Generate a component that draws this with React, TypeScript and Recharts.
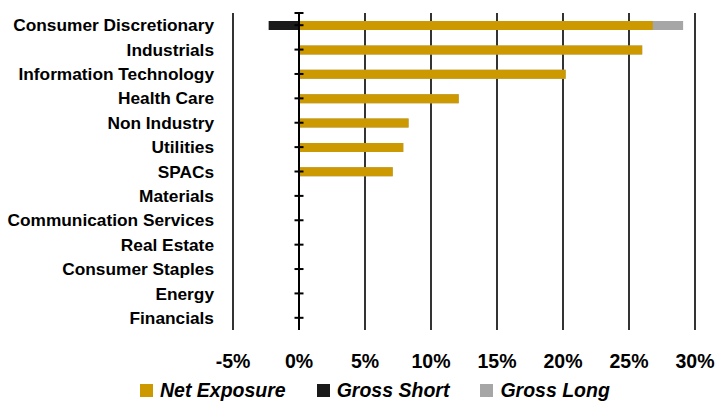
import React from 'react';
import {
  ComposedChart,
  Bar,
  Line,
  XAxis,
  YAxis,
  CartesianGrid,
  ReferenceLine,
  Legend,
} from 'recharts';

const categories = [
  'Consumer Discretionary',
  'Industrials',
  'Information Technology',
  'Health Care',
  'Non Industry',
  'Utilities',
  'SPACs',
  'Materials',
  'Communication Services',
  'Real Estate',
  'Consumer Staples',
  'Energy',
  'Financials',
];

const netExposure = [26.8, 26.0, 20.2, 12.1, 8.3, 7.9, 7.1, 0, 0, 0, 0, 0, 0];
const grossShort = [-2.3, 0, 0, 0, 0, 0, 0, 0, 0, 0, 0, 0, 0];
const grossLong = [29.1, 26.0, 20.2, 12.1, 8.3, 7.9, 7.1, 0, 0, 0, 0, 0, 0];
const axisZero = [0, 0, 0, 0, 0, 0, 0, 0, 0, 0, 0, 0, 0];

const xTicks = [-5, 0, 5, 10, 15, 20, 25, 30];

const legendItems = [
  { name: 'Net Exposure', color: '#CC9900' },
  { name: 'Gross Short', color: '#1A1A1A' },
  { name: 'Gross Long', color: '#A6A6A6' },
];

const data = categories.map((c, i) => ({
  category: c,
  net: netExposure[i],
  short: grossShort[i],
  long: grossLong[i],
  zero: axisZero[i],
}));

const FONT = '"Liberation Sans", Arial, sans-serif';

const renderLegend = () => (
  <div
    style={{
      height: 24,
      display: 'flex',
      alignItems: 'center',
      paddingLeft: 140,
      fontFamily: FONT,
      fontWeight: 700,
      fontStyle: 'italic',
      fontSize: 19.5,
      color: '#000',
      whiteSpace: 'nowrap',
    }}
  >
    {legendItems.map((it, i) => (
      <div key={it.name} style={{ display: 'flex', alignItems: 'center', marginRight: i < 2 ? 31 : 0 }}>
        <span style={{ display: 'inline-block', width: 13, height: 13, background: it.color, marginRight: 7 }} />
        <span>{it.name}</span>
      </div>
    ))}
  </div>
);

const TickMark = (props: any) => {
  const { cx, cy } = props;
  if (cx == null || cy == null) return null;
  return <line x1={cx - 4.5} x2={cx + 4.5} y1={cy} y2={cy} stroke="#000" strokeWidth={2} />;
};

const ZeroAxis = (props: any) => {
  const { x1, y1, x2, y2 } = props;
  if (x1 == null) return null;
  const top = Math.min(y1, y2);
  return (
    <g>
      <line x1={x1} x2={x2} y1={y1} y2={y2} stroke="#000" strokeWidth={2} />
      <line x1={x1 - 4.5} x2={x1 + 4.5} y1={top} y2={top} stroke="#000" strokeWidth={2} />
    </g>
  );
};

export default function App() {
  return (
    <div style={{ position: 'absolute', left: 0, top: 0, width: 719, height: 402, background: '#fff' }}>
      <ComposedChart
        width={719}
        height={402}
        data={data}
        layout="vertical"
        margin={{ top: 13, right: 24, bottom: 0, left: 0 }}
        barGap={-9}
        barCategoryGap={0}
      >
        <CartesianGrid horizontal={false} vertical={true} stroke="#000" strokeWidth={1.6} />
        <XAxis
          type="number"
          domain={[-5, 30]}
          ticks={xTicks}
          tickFormatter={(v: number) => `${v}%`}
          axisLine={false}
          tickLine={false}
          tickSize={6}
          tickMargin={18}
          height={48}
          interval={0}
          tick={{ fill: '#000', fontFamily: FONT, fontWeight: 700, fontSize: 19.5 }}
        />
        <YAxis
          type="category"
          dataKey="category"
          width={233}
          axisLine={false}
          tickLine={false}
          tickSize={6}
          tickMargin={13}
          interval={0}
          tick={{ fill: '#000', fontFamily: FONT, fontWeight: 700, fontSize: 17.3 }}
        />
        <Bar dataKey="long" name="Gross Long" fill="#A6A6A6" barSize={9} isAnimationActive={false} />
        <Bar dataKey="short" name="Gross Short" fill="#1A1A1A" barSize={9} isAnimationActive={false} />
        <Bar dataKey="net" name="Net Exposure" fill="#CC9900" barSize={9} isAnimationActive={false} />
        <ReferenceLine x={0} stroke="#000" strokeWidth={2} shape={ZeroAxis} />
        <Line
          dataKey="zero"
          stroke="none"
          dot={<TickMark />}
          activeDot={false}
          legendType="none"
          isAnimationActive={false}
        />
        <Legend verticalAlign="bottom" align="left" height={24} content={renderLegend} />
      </ComposedChart>
    </div>
  );
}
